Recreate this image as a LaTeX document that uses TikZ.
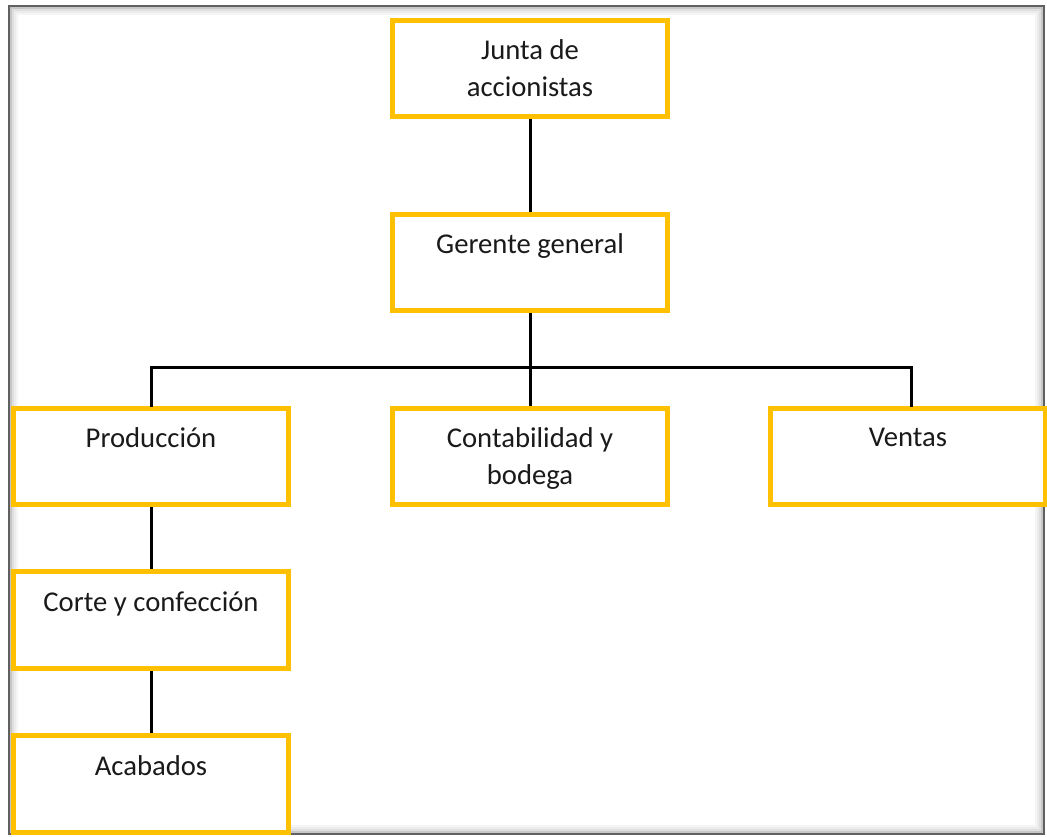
\documentclass[tikz,border=0pt]{standalone}
\usepackage{fontspec}
\setmainfont{Carlito}
\usetikzlibrary{calc}
\definecolor{boxyellow}{HTML}{FFC000}
\definecolor{txtgray}{HTML}{1A1A1A}
\tikzset{
  orgbox/.style={draw=boxyellow, line width=3.75pt, fill=white, minimum width=206pt, minimum height=72.5pt, inner sep=0pt},
  orgtxt/.style={anchor=north, inner sep=0pt, align=center, text=txtgray, font=\fontsize{21.5}{27.75}\selectfont},
  conn/.style={draw=black, line width=2.25pt},
}
\begin{document}
\begin{tikzpicture}[x=0.75pt, y=-0.75pt]
\useasboundingbox (0,0) rectangle (1047,837);
\fill[white] (0,0) rectangle (1047,837);
% frame with inner shadow
\draw[gray!8, line width=1.5pt] (17,14) rectangle (1036,826);
\draw[gray!15, line width=1.5pt] (15,12) rectangle (1038,828);
\draw[gray!25, line width=1.5pt] (13,10) rectangle (1040,830);
\draw[gray!45, line width=1.5pt] (11,8) rectangle (1042,832);
\draw[gray!75!black, line width=1.5pt] (9,6) rectangle (1044,834);
% boxes
\node[orgbox] (junta) at (530,68.5) {};
\node[orgbox] (gerente) at (530,262.5) {};
\node[orgbox] (prod) at (151,456.5) {};
\node[orgbox] (cont) at (530,456.5) {};
\node[orgbox] (ventas) at (908,456.5) {};
\node[orgbox] (corte) at (151,620) {};
\node[orgbox] (acab) at (151,784) {};
% texts
\node[orgtxt] (tjunta) at ($(junta.north)+(0,22)$) {Junta de\\accionistas};
\node[orgtxt] (tgerente) at ($(gerente.north)+(0,22)$) {Gerente general};
\node[orgtxt] (tprod) at ($(prod.north)+(0,22)$) {Producción};
\node[orgtxt] (tcont) at ($(cont.north)+(0,22)$) {Contabilidad y\\bodega};
\node[orgtxt] (tventas) at ($(ventas.north)+(0,22)$) {Ventas};
\node[orgtxt] (tcorte) at ($(corte.north)+(0,22)$) {Corte y confección};
\node[orgtxt] (tacab) at ($(acab.north)+(0,22)$) {Acabados};
% connectors
\coordinate (bus) at (530,368);
\draw[conn] (junta.south) -- (gerente.north);
\draw[conn] (gerente.south) -- (cont.north);
\draw[conn, line cap=rect] (prod.north) |- (bus) -| ($(ventas.north)+(3,0)$);
\draw[conn] (prod.south) -- (corte.north);
\draw[conn] (corte.south) -- (acab.north);
\end{tikzpicture}
\end{document}
